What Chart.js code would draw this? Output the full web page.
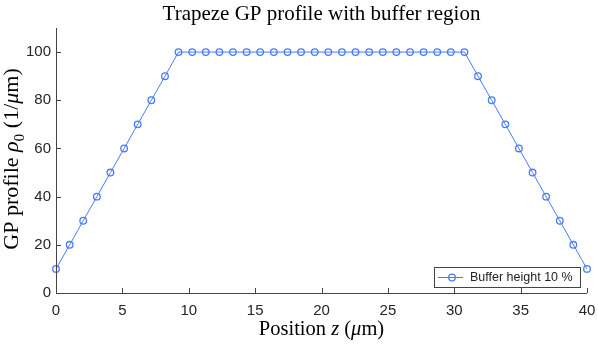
<!DOCTYPE html>
<html>
<head>
<meta charset="utf-8">
<script src="https://cdn.jsdelivr.net/npm/chart.js@4"></script>
<style>
  html, body { margin: 0; padding: 0; background: #fff; }
  #wrap { width: 598px; height: 364px; }
</style>
</head>
<body>
<div id="wrap"><canvas id="grafico" width="598" height="364"></canvas></div>
<script>
// posições (linspace 0..40, 40 pontos) e perfil
const posicoes = [0, 1.03, 2.05, 3.08, 4.10, 5.13, 6.15, 7.18, 8.21, 9.23,
  10.26, 11.28, 12.31, 13.33, 14.36, 15.38, 16.41, 17.44, 18.46, 19.49,
  20.51, 21.54, 22.56, 23.59, 24.62, 25.64, 26.67, 27.69, 28.72, 29.74,
  30.77, 31.79, 32.82, 33.85, 34.87, 35.90, 36.92, 37.95, 38.97, 40];
const perfil = [10, 20, 30, 40, 50, 60, 70, 80, 90, 100,
  100, 100, 100, 100, 100, 100, 100, 100, 100, 100,
  100, 100, 100, 100, 100, 100, 100, 100, 100, 100,
  100, 90, 80, 70, 60, 50, 40, 30, 20, 10];
const ticksX = [0, 5, 10, 15, 20, 25, 30, 35, 40];
const ticksY = [0, 20, 40, 60, 80, 100];
const legenda = 'Buffer height 10 %';
const titulo = 'Trapeze GP profile with buffer region';

const azul = 'rgb(72, 122, 250)';
const corEixo = '#444';
const serifa = '"Liberation Serif", "DejaVu Serif", serif';

// desenha texto com trechos em itálico / subscrito
function textoMisto(ctx, partes, x, y, tam) {
  let largura = 0;
  const medidas = partes.map(p => {
    const fs = p.sub ? tam * 0.7 : tam;
    ctx.font = (p.i ? 'italic ' : '') + fs + 'px ' + serifa;
    const w = ctx.measureText(p.t).width;
    largura += w;
    return { fs, w };
  });
  let cx = x - largura / 2;
  ctx.textAlign = 'left';
  ctx.textBaseline = 'alphabetic';
  partes.forEach((p, k) => {
    ctx.font = (p.i ? 'italic ' : '') + medidas[k].fs + 'px ' + serifa;
    ctx.fillText(p.t, cx, p.sub ? y + tam * 0.25 : y);
    cx += medidas[k].w;
  });
}

const pluginEixos = {
  id: 'eixos',
  afterDraw(chart) {
    const ctx = chart.ctx;
    const a = chart.chartArea;
    const sx = chart.scales.x, sy = chart.scales.y;
    ctx.save();
    // linhas dos eixos
    ctx.strokeStyle = corEixo;
    ctx.lineWidth = 1;
    ctx.beginPath();
    ctx.moveTo(a.left + 0.5, a.top);
    ctx.lineTo(a.left + 0.5, a.bottom + 0.5);
    ctx.lineTo(a.right, a.bottom + 0.5);
    ctx.stroke();
    // marcas para dentro
    ctx.beginPath();
    ticksX.forEach(v => {
      const px = Math.round(sx.getPixelForValue(v)) + 0.5;
      ctx.moveTo(px, a.bottom);
      ctx.lineTo(px, a.bottom - 5);
    });
    ticksY.forEach(v => {
      const py = Math.round(sy.getPixelForValue(v)) + 0.5;
      ctx.moveTo(a.left, py);
      ctx.lineTo(a.left + 5, py);
    });
    ctx.stroke();

    // títulos
    ctx.fillStyle = '#000';
    const cx = (a.left + a.right) / 2;
    textoMisto(ctx, [{ t: titulo }], cx, 20, 21);
    textoMisto(ctx, [{ t: 'Position ' }, { t: 'z', i: true }, { t: ' (' }, { t: 'μ', i: true }, { t: 'm)' }], cx, 335, 20.5);
    ctx.save();
    ctx.translate(18, 159);
    ctx.rotate(-Math.PI / 2);
    textoMisto(ctx, [{ t: 'GP profile ' }, { t: 'ρ', i: true }, { t: '0', sub: true }, { t: ' (1/' }, { t: 'μ', i: true }, { t: 'm)' }], 0, 0, 22);
    ctx.restore();

    // legenda dentro da área
    const lx = 434, ly = 267, lw = 146, lh = 20;
    ctx.fillStyle = '#fff';
    ctx.fillRect(lx, ly, lw, lh);
    ctx.strokeStyle = '#444';
    ctx.lineWidth = 1;
    ctx.strokeRect(lx + 0.5, ly + 0.5, lw, lh);
    ctx.strokeStyle = azul;
    ctx.beginPath();
    ctx.moveTo(lx + 4, ly + 10.5);
    ctx.lineTo(lx + 29, ly + 10.5);
    ctx.stroke();
    ctx.lineWidth = 1.3;
    ctx.beginPath();
    ctx.arc(lx + 18, ly + 10.5, 3.3, 0, Math.PI * 2);
    ctx.stroke();
    ctx.fillStyle = '#222';
    ctx.font = '12.5px "Liberation Sans", Arial, sans-serif';
    ctx.textBaseline = 'middle';
    ctx.textAlign = 'left';
    ctx.fillText(legenda, lx + 36, ly + 11);
    ctx.restore();
  }
};

new Chart(document.getElementById('grafico'), {
  type: 'line',
  data: {
    datasets: [{
      label: legenda,
      data: posicoes.map((x, i) => ({ x: x, y: perfil[i] })),
      borderColor: azul,
      backgroundColor: 'rgba(0,0,0,0)',
      borderWidth: 1,
      pointRadius: 3.3,
      pointBorderWidth: 1.3,
      pointBackgroundColor: 'rgba(0,0,0,0)',
      pointBorderColor: azul,
      tension: 0,
      clip: false
    }]
  },
  options: {
    responsive: false,
    animation: false,
    layout: { padding: { top: 28, right: 11, left: 0, bottom: 0 } },
    plugins: { legend: { display: false }, tooltip: { enabled: false } },
    scales: {
      x: {
        type: 'linear',
        min: 0, max: 40,
        afterBuildTicks: s => { s.ticks = ticksX.map(v => ({ value: v })); },
        afterFit: s => { s.height = 71; s.paddingLeft = 0; s.paddingRight = 0; },
        grid: { display: false, drawTicks: false },
        border: { display: false },
        ticks: { color: '#262626', font: { family: '"Liberation Sans", Arial', size: 15 }, padding: 9, maxRotation: 0 }
      },
      y: {
        min: 0, max: 110,
        afterBuildTicks: s => { s.ticks = ticksY.map(v => ({ value: v })); },
        afterFit: s => { s.width = 56; s.paddingTop = 0; s.paddingBottom = 0; },
        grid: { display: false, drawTicks: false },
        border: { display: false },
        ticks: { color: '#262626', font: { family: '"Liberation Sans", Arial', size: 15 }, padding: 5 }
      }
    }
  },
  plugins: [pluginEixos]
});
</script>
</body>
</html>
